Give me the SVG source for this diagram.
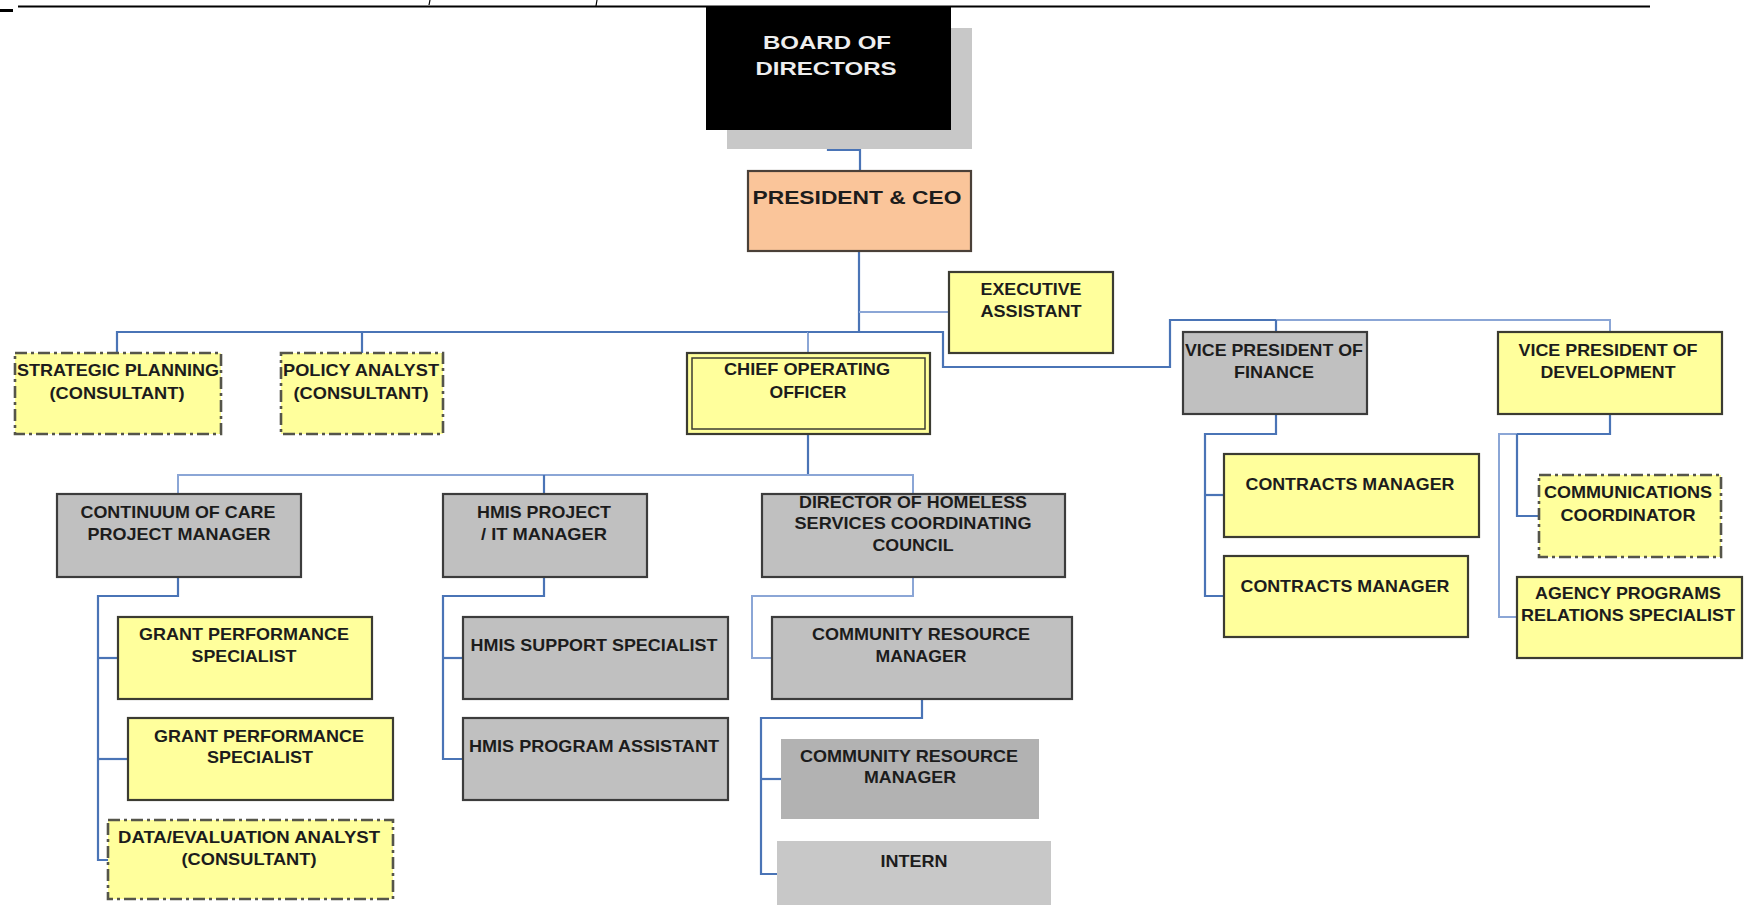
<svg xmlns="http://www.w3.org/2000/svg" width="1751" height="905" viewBox="0 0 1751 905">
<style>
  .bg{fill:#ffffff}
  .c{fill:none;stroke:#4a74b6;stroke-width:2.2}
  .cl{fill:none;stroke:#8ba6d6;stroke-width:2}
  .y{fill:#ffff9c;stroke:#3c3c32;stroke-width:2.2}
  .g{fill:#c0c0c0;stroke:#3c3c3c;stroke-width:2.2}
  .d{fill:#ffff9c;stroke:#55554a;stroke-width:2.6;stroke-dasharray:12 4 3 4}
  .t{font-family:"Liberation Sans",Arial,sans-serif;font-weight:bold;font-size:16.5px;fill:#1c1c1c;text-anchor:middle}
</style>
<rect class="bg" x="0" y="0" width="1751" height="905"/>
<!-- page artifacts -->
<line x1="18" y1="6.5" x2="1650" y2="6.5" stroke="#000" stroke-width="2"/>
<rect x="0" y="9" width="13" height="3" fill="#000"/>
<line x1="430" y1="0" x2="429" y2="5" stroke="#000" stroke-width="1.2"/>
<line x1="597" y1="0" x2="596" y2="6" stroke="#000" stroke-width="1.2"/>

<g id="connectors">
  <path class="c" d="M828,130 V150 H860 V171"/>
  <path class="c" d="M859,251 V332"/>
  <path class="cl" d="M859,312 H949"/>
  <path class="c" d="M117,353 V332 H859"/>
  <path class="c" d="M362,332 V353"/>
  <path class="cl" d="M808,332 V353"/>
  <path class="c" d="M808,332 H943 V367 H1170 V320 H1276"/>
  <path class="cl" d="M1276,320 H1610 V332"/>
  <path class="c" d="M1276,320 V332"/>
  <path class="c" d="M808,434 V475"/>
  <path class="cl" d="M178,494 V475 H913 V494"/>
  <path class="c" d="M544,475 V494"/>
  <path class="c" d="M178,577 V596 H98 V860 H108"/>
  <path class="c" d="M98,658 H118"/>
  <path class="c" d="M98,759 H128"/>
  <path class="c" d="M544,577 V596 H443 V759 H463"/>
  <path class="c" d="M443,658 H463"/>
  <path class="cl" d="M913,577 V596 H752 V658 H772"/>
  <path class="c" d="M922,699 V718 H761 V874 H779"/>
  <path class="c" d="M761,779 H781"/>
  <path class="c" d="M1276,414 V434 H1205 V596 H1224"/>
  <path class="c" d="M1205,495 H1224"/>
  <path class="c" d="M1610,414 V434 H1517"/>
  <path class="cl" d="M1517,434 H1499 V617 H1517"/>
  <path class="c" d="M1517,434 V516 H1539"/>
</g>

<g id="board">
  <rect x="727" y="28" width="245" height="121" fill="#c8c8c8"/>
  <rect x="706" y="7" width="245" height="123" fill="#000"/>
  <text class="t" x="827" y="49" style="font-size:19px;fill:#eeeeee" textLength="128" lengthAdjust="spacingAndGlyphs">BOARD OF</text>
  <text class="t" x="826" y="75" style="font-size:19px;fill:#eeeeee" textLength="141" lengthAdjust="spacingAndGlyphs">DIRECTORS</text>
</g>

<g id="president">
  <rect x="748" y="171" width="223" height="80" fill="#fac59a" stroke="#4a4038" stroke-width="2.2"/>
  <text class="t" x="857" y="204" style="font-size:18.5px" textLength="209" lengthAdjust="spacingAndGlyphs">PRESIDENT &amp; CEO</text>
</g>

<g id="exec-assistant">
  <rect class="y" x="949" y="272" width="164" height="81"/>
  <text class="t" x="1031" y="295" textLength="101" lengthAdjust="spacingAndGlyphs">EXECUTIVE</text>
  <text class="t" x="1031" y="317" textLength="101" lengthAdjust="spacingAndGlyphs">ASSISTANT</text>
</g>

<g id="strategic-planning">
  <rect class="d" x="15" y="353" width="206" height="81"/>
  <text class="t" x="118" y="376" textLength="202" lengthAdjust="spacingAndGlyphs">STRATEGIC PLANNING</text>
  <text class="t" x="117" y="399" textLength="135" lengthAdjust="spacingAndGlyphs">(CONSULTANT)</text>
</g>

<g id="policy-analyst">
  <rect class="d" x="281" y="353" width="162" height="81"/>
  <text class="t" x="361" y="376" textLength="156" lengthAdjust="spacingAndGlyphs">POLICY ANALYST</text>
  <text class="t" x="361" y="399" textLength="135" lengthAdjust="spacingAndGlyphs">(CONSULTANT)</text>
</g>

<g id="coo">
  <rect class="y" x="687" y="353" width="243" height="81"/>
  <rect x="692" y="358" width="233" height="71" fill="none" stroke="#3c3c32" stroke-width="1.5"/>
  <text class="t" x="807" y="375" textLength="166" lengthAdjust="spacingAndGlyphs">CHIEF OPERATING</text>
  <text class="t" x="808" y="398" textLength="77" lengthAdjust="spacingAndGlyphs">OFFICER</text>
</g>

<g id="vp-finance">
  <rect class="g" x="1183" y="332" width="184" height="82"/>
  <text class="t" x="1274" y="356" textLength="178" lengthAdjust="spacingAndGlyphs">VICE PRESIDENT OF</text>
  <text class="t" x="1274" y="378" textLength="80" lengthAdjust="spacingAndGlyphs">FINANCE</text>
</g>

<g id="vp-development">
  <rect class="y" x="1498" y="332" width="224" height="82"/>
  <text class="t" x="1608" y="356" textLength="179" lengthAdjust="spacingAndGlyphs">VICE PRESIDENT OF</text>
  <text class="t" x="1608" y="378" textLength="135" lengthAdjust="spacingAndGlyphs">DEVELOPMENT</text>
</g>

<g id="coc-manager">
  <rect class="g" x="57" y="494" width="244" height="83"/>
  <text class="t" x="178" y="518" textLength="195" lengthAdjust="spacingAndGlyphs">CONTINUUM OF CARE</text>
  <text class="t" x="179" y="540" textLength="183" lengthAdjust="spacingAndGlyphs">PROJECT MANAGER</text>
</g>

<g id="grant-specialist-1">
  <rect class="y" x="118" y="617" width="254" height="82"/>
  <text class="t" x="244" y="640" textLength="210" lengthAdjust="spacingAndGlyphs">GRANT PERFORMANCE</text>
  <text class="t" x="244" y="662" textLength="105" lengthAdjust="spacingAndGlyphs">SPECIALIST</text>
</g>

<g id="grant-specialist-2">
  <rect class="y" x="128" y="718" width="265" height="82"/>
  <text class="t" x="259" y="742" textLength="210" lengthAdjust="spacingAndGlyphs">GRANT PERFORMANCE</text>
  <text class="t" x="260" y="763" textLength="106" lengthAdjust="spacingAndGlyphs">SPECIALIST</text>
</g>

<g id="data-analyst">
  <rect class="d" x="108" y="820" width="285" height="79"/>
  <text class="t" x="249" y="843" textLength="262" lengthAdjust="spacingAndGlyphs">DATA/EVALUATION ANALYST</text>
  <text class="t" x="249" y="865" textLength="135" lengthAdjust="spacingAndGlyphs">(CONSULTANT)</text>
</g>

<g id="hmis-manager">
  <rect class="g" x="443" y="494" width="204" height="83"/>
  <text class="t" x="544" y="518" textLength="134" lengthAdjust="spacingAndGlyphs">HMIS PROJECT</text>
  <text class="t" x="544" y="540" textLength="126" lengthAdjust="spacingAndGlyphs">/ IT MANAGER</text>
</g>

<g id="hmis-support">
  <rect class="g" x="463" y="617" width="265" height="82"/>
  <text class="t" x="594" y="651" textLength="247" lengthAdjust="spacingAndGlyphs">HMIS SUPPORT SPECIALIST</text>
</g>

<g id="hmis-assistant">
  <rect class="g" x="463" y="718" width="265" height="82"/>
  <text class="t" x="594" y="752" textLength="250" lengthAdjust="spacingAndGlyphs">HMIS PROGRAM ASSISTANT</text>
</g>

<g id="director-hscc">
  <rect class="g" x="762" y="494" width="303" height="83"/>
  <text class="t" x="913" y="508" textLength="228" lengthAdjust="spacingAndGlyphs">DIRECTOR OF HOMELESS</text>
  <text class="t" x="913" y="529" textLength="237" lengthAdjust="spacingAndGlyphs">SERVICES COORDINATING</text>
  <text class="t" x="913" y="551" textLength="81" lengthAdjust="spacingAndGlyphs">COUNCIL</text>
</g>

<g id="community-resource-1">
  <rect class="g" x="772" y="617" width="300" height="82"/>
  <text class="t" x="921" y="640" textLength="218" lengthAdjust="spacingAndGlyphs">COMMUNITY RESOURCE</text>
  <text class="t" x="921" y="662" textLength="91" lengthAdjust="spacingAndGlyphs">MANAGER</text>
</g>

<g id="community-resource-2">
  <rect x="781" y="739" width="258" height="80" fill="#b2b2b2"/>
  <text class="t" x="909" y="762" textLength="218" lengthAdjust="spacingAndGlyphs">COMMUNITY RESOURCE</text>
  <text class="t" x="910" y="783" textLength="92" lengthAdjust="spacingAndGlyphs">MANAGER</text>
</g>

<g id="intern">
  <rect x="777" y="841" width="274" height="64" fill="#c8c8c8"/>
  <text class="t" x="914" y="867" textLength="67" lengthAdjust="spacingAndGlyphs">INTERN</text>
</g>

<g id="contracts-manager-1">
  <rect class="y" x="1224" y="454" width="255" height="83"/>
  <text class="t" x="1350" y="490" textLength="209" lengthAdjust="spacingAndGlyphs">CONTRACTS MANAGER</text>
</g>

<g id="contracts-manager-2">
  <rect class="y" x="1224" y="556" width="244" height="81"/>
  <text class="t" x="1345" y="592" textLength="209" lengthAdjust="spacingAndGlyphs">CONTRACTS MANAGER</text>
</g>

<g id="communications-coordinator">
  <rect class="d" x="1539" y="475" width="182" height="82"/>
  <text class="t" x="1628" y="498" textLength="168" lengthAdjust="spacingAndGlyphs">COMMUNICATIONS</text>
  <text class="t" x="1628" y="521" textLength="135" lengthAdjust="spacingAndGlyphs">COORDINATOR</text>
</g>

<g id="agency-programs">
  <rect class="y" x="1517" y="577" width="225" height="81"/>
  <text class="t" x="1628" y="599" textLength="186" lengthAdjust="spacingAndGlyphs">AGENCY PROGRAMS</text>
  <text class="t" x="1628" y="621" textLength="214" lengthAdjust="spacingAndGlyphs">RELATIONS SPECIALIST</text>
</g>
</svg>
